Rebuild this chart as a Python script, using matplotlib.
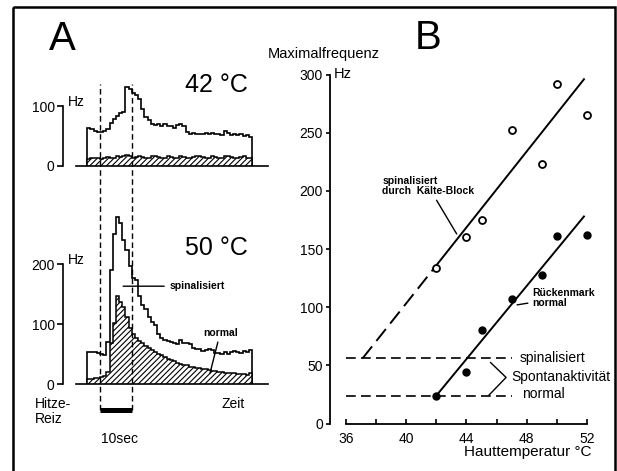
import numpy as np
import matplotlib.pyplot as plt
from matplotlib.patches import Rectangle

plt.rcParams['font.family'] = ['Liberation Sans', 'DejaVu Sans']
plt.rcParams['hatch.linewidth'] = 0.8
plt.rcParams['lines.scale_dashes'] = False

W, H = 617, 471

# ---- panel A: 1 s bins, t = 0 is heat onset ----
bin_start = -4
stim_on, stim_off = 0, 10

top_spinal = [63, 62, 58, 57, 56, 58, 62, 72, 78, 84, 88, 90,
              132, 128, 122, 118, 112, 95, 82, 76, 70, 68, 70, 66,
              70, 66, 66, 64, 68, 70, 66, 57, 54, 55, 53, 54,
              53, 55, 54, 55, 53, 54, 52, 58, 55, 52, 53, 51,
              53, 50, 51, 49]
top_normal = [12, 13, 14, 13, 12, 14, 15, 14, 13, 16, 15, 17,
              18, 16, 14, 15, 17, 15, 13, 14, 16, 17, 15, 13,
              14, 16, 15, 14, 13, 17, 15, 14, 13, 15, 16, 17,
              15, 13, 14, 16, 15, 13, 14, 16, 17, 15, 13, 14,
              15, 16, 14, 13]
bot_spinal = [54, 54, 53, 51,
              50, 48, 70, 190, 250, 279, 268, 240, 223, 196,
              176, 173, 146, 132, 125, 112, 103, 98, 84, 76,
              73, 72, 70, 69, 66, 73, 68, 68, 66, 60,
              59, 58, 55, 57, 58, 56, 52, 51, 50, 53,
              50, 54, 55, 53, 52, 55, 54, 57]
bot_normal = [9, 9, 10, 10,
              12, 13, 20, 68, 101, 146, 136, 128, 112, 93,
              84, 76, 72, 68, 64, 60, 57, 53, 50, 48,
              45, 42, 40, 38, 35, 33, 32, 31, 29, 28,
              27, 26, 25, 25, 24, 22, 21, 20, 20, 19,
              19, 18, 18, 17, 17, 16, 15, 18]

# ---- panel B ----
temps = [42, 44, 45, 47, 49, 50, 52]
freq_spinal = [134, 160, 175, 252, 223, 292, 265]
freq_normal = [24, 44, 80, 107, 128, 161, 162]
fit_spinal_x = [37.1, 42.0, 51.8]
fit_spinal_y = [56, 136, 296]
fit_normal_x = [42.0, 51.8]
fit_normal_y = [24, 178]
spont_spinal = 56
spont_normal = 24
spont_x = [36, 47]
brace_x = [45.6, 46.63, 45.5]
brace_y = [52.4, 39.6, 24.5]


fig = plt.figure(figsize=(W / 100, H / 100), dpi=100)


def px_axes(left, top, right, bottom):
    ax = fig.add_axes([left / W, 1 - bottom / H, (right - left) / W, (bottom - top) / H])
    ax.patch.set_visible(False)
    return ax


def px_lims(ax, left, top, right, bottom, x0, sx, y0, sy):
    # x0/y0: pixel of data zero, sx/sy: pixels per data unit
    ax.set_xlim((left - x0) / sx, (right - x0) / sx)
    ax.set_ylim((y0 - bottom) / sy, (y0 - top) / sy)


# overlay in pixel coordinates
ax0 = px_axes(0, 0, W, H)
ax0.set_xlim(0, W)
ax0.set_ylim(H, 0)
ax0.axis('off')
ax0.add_patch(Rectangle((13, 7), 602, 480, fill=False, lw=1.8, color='k'))

edges = bin_start + np.arange(len(top_spinal) + 1)
sx_a, sy_a = 3.17, 0.6


def hist_axes(top, bottom, base_px, values_spinal, values_normal, yticks):
    ax = px_axes(55, top, 280, bottom)
    px_lims(ax, 55, top, 280, bottom, 100, sx_a, base_px, sy_a)
    ax.stairs(values_spinal, edges, baseline=0, color='k', lw=1.2)
    ax.stairs(values_normal, edges, baseline=0, fill=True, facecolor='white',
              edgecolor='k', hatch='//////', lw=1.1)
    for s in ['top', 'right']:
        ax.spines[s].set_visible(False)
    ax.spines['left'].set_position(('data', (63 - 100) / sx_a))
    ax.spines['left'].set_bounds(0, yticks[-1])
    ax.spines['bottom'].set_position(('data', 0))
    ax.spines['bottom'].set_bounds((76 - 100) / sx_a, (268 - 100) / sx_a)
    ax.spines['left'].set_linewidth(1.2)
    ax.spines['bottom'].set_linewidth(1.2)
    ax.set_xticks([])
    ax.set_yticks(yticks)
    ax.tick_params(axis='y', direction='out', length=4, width=1.2, labelsize=10, pad=2)
    ax.text((68 - 100) / sx_a, yticks[-1] + 6, 'Hz', fontsize=10, va='center', ha='left')
    return ax


ax_top = hist_axes(75, 172, 166, top_spinal, top_normal, [0, 100])
ax_bot = hist_axes(195, 392, 384, bot_spinal, bot_normal, [0, 100, 200])

y_low = (384 - 410) / sy_a
y_high = (384 - 84) / sy_a
ax_bot.vlines([stim_on, stim_off], y_low, y_high, colors='k', lw=1.0,
              linestyles=(0, (4, 2.5)), clip_on=False)
ax_bot.hlines(y_low, stim_on, stim_off, colors='k', lw=3.6, clip_on=False)

ax_bot.annotate('spinalisiert', xy=(7.3, 163), xytext=(22, 163), fontsize=7.5,
                fontweight='bold', ha='left', va='center',
                arrowprops=dict(arrowstyle='-', lw=1.0, color='k', shrinkA=2, shrinkB=0))
ax_bot.annotate('normal', xy=(34.7, 18), xytext=(37.9, 85), fontsize=7.5,
                fontweight='bold', ha='center', va='center',
                arrowprops=dict(arrowstyle='-', lw=1.0, color='k', shrinkA=1, shrinkB=0))

ax0.text(62, 39, 'A', fontsize=29, ha='center', va='center')
ax0.text(428, 38, 'B', fontsize=29, ha='center', va='center')
ax0.text(216, 92, '42 °C', fontsize=18, ha='center', va='baseline')
ax0.text(216, 255, '50 °C', fontsize=18, ha='center', va='baseline')
ax0.text(35, 408, 'Hitze-', fontsize=10, ha='left', va='baseline')
ax0.text(35, 423, 'Reiz', fontsize=10, ha='left', va='baseline')
ax0.text(222, 408, 'Zeit', fontsize=10, ha='left', va='baseline')
ax0.text(119.5, 443, '10sec', fontsize=10, ha='center', va='baseline')
ax0.text(268, 58, 'Maximalfrequenz', fontsize=10.5, ha='left', va='baseline')
ax0.text(334, 78, 'Hz', fontsize=10.5, ha='left', va='baseline')
ax0.text(528, 456, 'Hauttemperatur °C', fontsize=11, ha='center', va='baseline')

# ---- panel B axes ----
axB = px_axes(330, 60, 600, 424)
px_lims(axB, 330, 60, 600, 424, 346 - 36 * 15.06, 15.06, 423.5, 1.163)
axB.plot(fit_spinal_x[1:], fit_spinal_y[1:], color='k', lw=1.4)
axB.plot(fit_spinal_x[:2], fit_spinal_y[:2], color='k', lw=1.4, ls=(0, (11, 5)))
axB.plot(fit_normal_x, fit_normal_y, color='k', lw=1.4)
axB.plot(temps, freq_spinal, 'o', ms=5, mfc='white', mec='k', mew=1.3, zorder=3)
axB.plot(temps, freq_normal, 'o', ms=5, mfc='k', mec='k', zorder=3)
axB.hlines([spont_spinal, spont_normal], spont_x[0], spont_x[1], colors='k', lw=1.2,
           linestyles=(0, (7, 3.8)))
axB.plot(brace_x, brace_y, color='k', lw=1.0)
axB.text(47.56, spont_spinal, 'spinalisiert', fontsize=10, va='center', ha='left')
axB.text(47.0, 39.8, 'Spontanaktivität', fontsize=10, va='center', ha='left')
axB.text(47.67, spont_normal + 1, 'normal', fontsize=10, va='center', ha='left')
axB.annotate('spinalisiert\ndurch  Kälte-Block', xy=(43.35, 163), xytext=(38.4, 204),
             fontsize=7.5, fontweight='bold', ha='left', va='center', linespacing=1.0,
             arrowprops=dict(arrowstyle='-', lw=1.0, color='k', shrinkA=1, shrinkB=0))
axB.annotate('Rückenmark\nnormal', xy=(47.36, 102), xytext=(48.35, 107.5),
             fontsize=7.5, fontweight='bold', ha='left', va='center', linespacing=1.0,
             arrowprops=dict(arrowstyle='-', lw=1.0, color='k', shrinkA=1, shrinkB=0,
                             relpos=(0, 0.3)))

for s in ['top', 'right']:
    axB.spines[s].set_visible(False)
axB.spines['left'].set_bounds(0, 300)
axB.spines['bottom'].set_bounds(36, 52)
axB.spines['left'].set_linewidth(1.3)
axB.spines['bottom'].set_linewidth(1.3)
axB.set_yticks(np.arange(0, 301, 50))
axB.set_xticks(np.arange(36, 53, 2))
axB.set_xticklabels([str(t) if t % 4 == 0 else '' for t in range(36, 53, 2)])
axB.tick_params(axis='y', direction='out', length=3, width=1.2, labelsize=10, pad=2)
axB.tick_params(axis='x', direction='in', length=3.5, width=1.2, labelsize=10, pad=6)

fig.savefig('out.png', dpi=100)
